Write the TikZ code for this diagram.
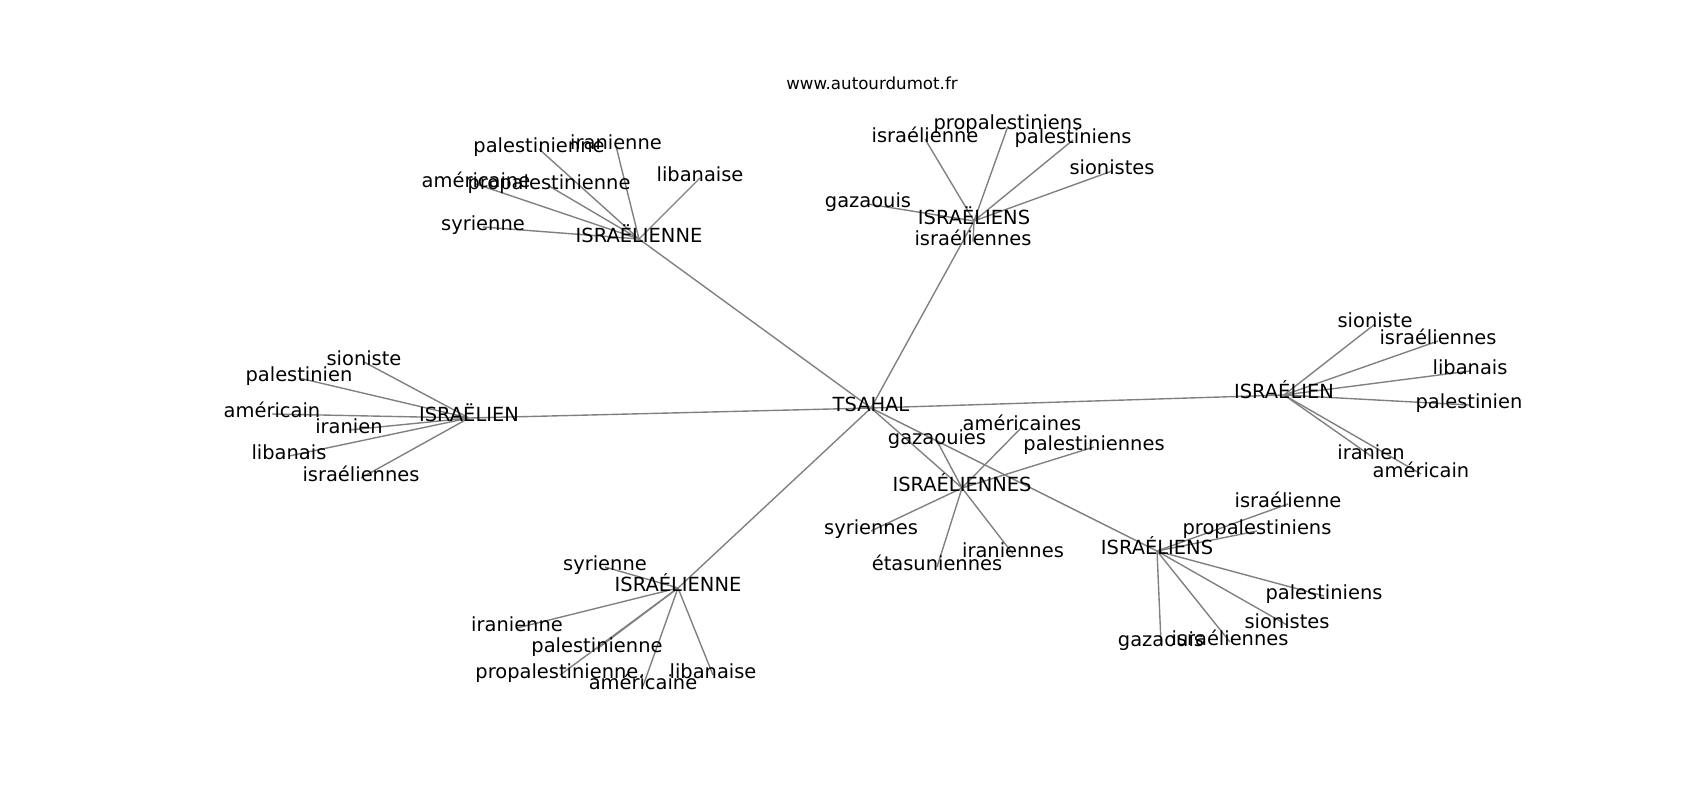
\documentclass[tikz,border=0pt]{standalone}
\usepackage{fontspec}
\setmainfont{DejaVu Sans}
\usetikzlibrary{backgrounds}

\tikzset{every picture/.style={line width=1pt}}
\tikzset{
  word/.style={anchor=center, inner sep=0pt, text height=0.76em, text depth=0.21em, font=\fontsize{14}{16}\selectfont},
  link/.style={draw={rgb, 255:red, 128; green, 128; blue, 128}, line width=1pt}
}

\begin{document}
\begin{tikzpicture}[x=0.72pt,y=0.72pt,yscale=-1,xscale=1]
\useasboundingbox (0,0) rectangle (1700,800); %set diagram left start at 0, and has height of 800

% Text Node
\node [anchor=center, inner sep=0pt, font=\fontsize{12}{14}\selectfont] (site) at (872,83) {www.autourdumot.fr};

% Text Node
\node [word] (tsahal) at (871,408) {TSAHAL};
% Text Node
\node [word] (hA) at (639,239) {ISRAËLIENNE};
% Text Node
\node [word] (hB) at (974,221) {ISRAËLIENS};
% Text Node
\node [word] (hC) at (469,418) {ISRAËLIEN};
% Text Node
\node [word] (hD) at (1284,395) {ISRAÉLIEN};
% Text Node
\node [word] (hE) at (962,488) {ISRAÉLIENNES};
% Text Node
\node [word] (hF) at (1157,551) {ISRAÉLIENS};
% Text Node
\node [word] (hG) at (678,588) {ISRAÉLIENNE};

% Text Node
\node [word] (hA1) at (539,149) {palestinienne};
\node [word] (hA2) at (616,146) {iranienne};
\node [word] (hA3) at (700,178) {libanaise};
\node [word] (hA4) at (476,184) {américaine};
\node [word] (hA5) at (549,186) {propalestinienne};
\node [word] (hA6) at (483,227) {syrienne};

% Text Node
\node [word] (hB1) at (1008,126) {propalestiniens};
\node [word] (hB2) at (925,139) {israélienne};
\node [word] (hB3) at (1073,140) {palestiniens};
\node [word] (hB4) at (1112,171) {sionistes};
\node [word] (hB5) at (868,204) {gazaouis};
\node [word] (hB6) at (973,242) {israéliennes};

% Text Node
\node [word] (hC1) at (364,362) {sioniste};
\node [word] (hC2) at (299,378) {palestinien};
\node [word] (hC3) at (272,414) {américain};
\node [word] (hC4) at (349,430) {iranien};
\node [word] (hC5) at (289,456) {libanais};
\node [word] (hC6) at (361,478) {israéliennes};

% Text Node
\node [word] (hD1) at (1375,324) {sioniste};
\node [word] (hD2) at (1438,341) {israéliennes};
\node [word] (hD3) at (1470,371) {libanais};
\node [word] (hD4) at (1469,405) {palestinien};
\node [word] (hD5) at (1371,456) {iranien};
\node [word] (hD6) at (1421,474) {américain};

% Text Node
\node [word] (hE1) at (1022,427) {américaines};
\node [word] (hE2) at (937,441) {gazaouies};
\node [word] (hE3) at (1094,447) {palestiniennes};
\node [word] (hE4) at (871,531) {syriennes};
\node [word] (hE5) at (1013,554) {iraniennes};
\node [word] (hE6) at (937,567) {étasuniennes};

% Text Node
\node [word] (hF1) at (1288,504) {israélienne};
\node [word] (hF2) at (1257,531) {propalestiniens};
\node [word] (hF3) at (1324,596) {palestiniens};
\node [word] (hF4) at (1287,625) {sionistes};
\node [word] (hF5) at (1161,643) {gazaouis};
\node [word] (hF6) at (1230,642) {israéliennes};

% Text Node
\node [word] (hG1) at (605,567) {syrienne};
\node [word] (hG2) at (517,628) {iranienne};
\node [word] (hG3) at (597,649) {palestinienne};
\node [word] (hG4) at (560,675) {propalestinienne.};
\node [word] (hG5) at (713,675) {libanaise};
\node [word] (hG6) at (643,686) {américaine};

\begin{scope}[on background layer]
%Straight Lines
\draw [link] (tsahal.center) -- (hA.center) ;
\draw [link] (tsahal.center) -- (hB.center) ;
\draw [link] (tsahal.center) -- (hC.center) ;
\draw [link] (tsahal.center) -- (hD.center) ;
\draw [link] (tsahal.center) -- (hE.center) ;
\draw [link] (tsahal.center) -- (hF.center) ;
\draw [link] (tsahal.center) -- (hG.center) ;
%Straight Lines
\draw [link] (hA.center) -- (hA1.center) ;
\draw [link] (hA.center) -- (hA2.center) ;
\draw [link] (hA.center) -- (hA3.center) ;
\draw [link] (hA.center) -- (hA4.center) ;
\draw [link] (hA.center) -- (hA5.center) ;
\draw [link] (hA.center) -- (hA6.center) ;
%Straight Lines
\draw [link] (hB.center) -- (hB1.center) ;
\draw [link] (hB.center) -- (hB2.center) ;
\draw [link] (hB.center) -- (hB3.center) ;
\draw [link] (hB.center) -- (hB4.center) ;
\draw [link] (hB.center) -- (hB5.center) ;
\draw [link] (hB.center) -- (hB6.center) ;
%Straight Lines
\draw [link] (hC.center) -- (hC1.center) ;
\draw [link] (hC.center) -- (hC2.center) ;
\draw [link] (hC.center) -- (hC3.center) ;
\draw [link] (hC.center) -- (hC4.center) ;
\draw [link] (hC.center) -- (hC5.center) ;
\draw [link] (hC.center) -- (hC6.center) ;
%Straight Lines
\draw [link] (hD.center) -- (hD1.center) ;
\draw [link] (hD.center) -- (hD2.center) ;
\draw [link] (hD.center) -- (hD3.center) ;
\draw [link] (hD.center) -- (hD4.center) ;
\draw [link] (hD.center) -- (hD5.center) ;
\draw [link] (hD.center) -- (hD6.center) ;
%Straight Lines
\draw [link] (hE.center) -- (hE1.center) ;
\draw [link] (hE.center) -- (hE2.center) ;
\draw [link] (hE.center) -- (hE3.center) ;
\draw [link] (hE.center) -- (hE4.center) ;
\draw [link] (hE.center) -- (hE5.center) ;
\draw [link] (hE.center) -- (hE6.center) ;
%Straight Lines
\draw [link] (hF.center) -- (hF1.center) ;
\draw [link] (hF.center) -- (hF2.center) ;
\draw [link] (hF.center) -- (hF3.center) ;
\draw [link] (hF.center) -- (hF4.center) ;
\draw [link] (hF.center) -- (hF5.center) ;
\draw [link] (hF.center) -- (hF6.center) ;
%Straight Lines
\draw [link] (hG.center) -- (hG1.center) ;
\draw [link] (hG.center) -- (hG2.center) ;
\draw [link] (hG.center) -- (hG3.center) ;
\draw [link] (hG.center) -- (hG4.center) ;
\draw [link] (hG.center) -- (hG5.center) ;
\draw [link] (hG.center) -- (hG6.center) ;
\end{scope}

\end{tikzpicture}
\end{document}
